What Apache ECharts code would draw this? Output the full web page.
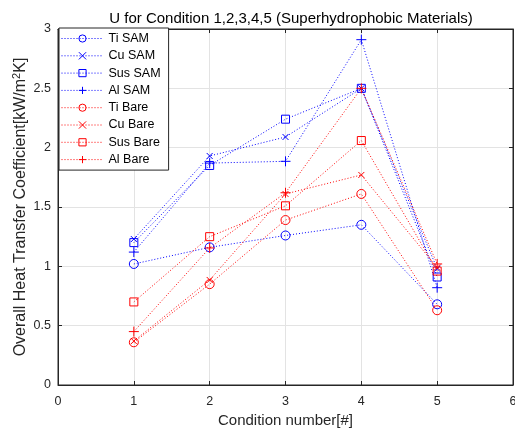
<!DOCTYPE html>
<html><head><meta charset="utf-8">
<script src="https://cdn.jsdelivr.net/npm/echarts@6/dist/echarts.min.js"></script>
<style>html,body{margin:0;padding:0;background:#fff}#c{width:515px;height:433px}</style>
</head><body><div id="c"></div>
<script>
const conditions = [1, 2, 3, 4, 5];
const tiSAM   = [1.02, 1.16, 1.26, 1.35, 0.68];
const cuSAM   = [1.23, 1.93, 2.09, 2.50, 0.98];
const susSAM  = [1.20, 1.85, 2.24, 2.50, 0.91];
const alSAM   = [1.12, 1.87, 1.885, 2.91, 0.82];
const tiBare  = [0.36, 0.85, 1.39, 1.61, 0.63];
const cuBare  = [0.37, 0.885, 1.61, 1.77, 0.99];
const susBare = [0.70, 1.25, 1.51, 2.06, 0.96];
const alBare  = [0.45, 1.155, 1.62, 2.50, 1.02];

const FONT = 'Liberation Sans, Arial, sans-serif';
const TXT = '#262626';
const CROSS = 'path://M0,0L10,10M10,0L0,10';
const PLUS = 'path://M5,0L5,10M0,5L10,5';
const DOT = [1, 2];

function mk(name, data, color, symbol, size) {
  return {
    name, type: 'line',
    data: data.map((v, i) => [conditions[i], v]),
    symbol, symbolSize: size,
    showAllSymbol: true,
    lineStyle: { color, width: 1, type: DOT },
    itemStyle: { color: 'rgba(255,255,255,0)', borderColor: color, borderWidth: 1 },
    emphasis: { disabled: true },
    animation: false
  };
}
const series = [
  mk('Ti SAM', tiSAM, '#0000ff', 'circle', 9),
  mk('Cu SAM', cuSAM, '#0000ff', CROSS, 6),
  mk('Sus SAM', susSAM, '#0000ff', 'rect', 8),
  mk('Al SAM', alSAM, '#0000ff', PLUS, 10),
  mk('Ti Bare', tiBare, '#ff0000', 'circle', 9),
  mk('Cu Bare', cuBare, '#ff0000', CROSS, 6),
  mk('Sus Bare', susBare, '#ff0000', 'rect', 8),
  mk('Al Bare', alBare, '#ff0000', PLUS, 10)
];
const legendNames = series.map(s => s.name);
series.push({ name: '_frame', type: 'scatter', xAxisIndex: 1, yAxisIndex: 1, data: [], silent: true });

const chart = echarts.init(document.getElementById('c'));
const axLine = { show: true, onZero: false, lineStyle: { color: TXT, width: 1 } };
chart.setOption({
  animation: false,
  textStyle: { fontFamily: FONT },
  title: {
    text: 'U for Condition 1,2,3,4,5 (Superhydrophobic Materials)',
    left: 286, top: 6, textAlign: 'center',
    textStyle: { fontFamily: FONT, fontSize: 15, fontWeight: 'normal', color: '#000' }
  },
  grid: { left: 58, right: 2, top: 29, bottom: 48, show: true, borderColor: TXT, borderWidth: 1,
          containLabel: false, outerBoundsMode: 'none' },
  legend: {
    orient: 'vertical', left: 59, top: 28,
    backgroundColor: '#fff', borderColor: TXT, borderWidth: 1,
    padding: [4, 8, 4, 2], itemWidth: 42, itemHeight: 9, itemGap: 4.3,
    itemStyle: { borderWidth: 1 },
    lineStyle: { width: 1, type: DOT },
    textStyle: { fontFamily: FONT, fontSize: 12.5, color: '#000', padding: [0, 0, 0, 0] },
    data: legendNames
  },
  xAxis: [{
    type: 'value', min: 0, max: 6, interval: 1,
    name: 'Condition number[#]', nameLocation: 'middle', nameGap: 21,
    nameTextStyle: { fontFamily: FONT, fontSize: 15, color: TXT },
    axisLine: axLine,
    axisTick: { inside: true, length: 4, lineStyle: { color: TXT } },
    axisLabel: { fontFamily: FONT, fontSize: 12.5, color: TXT, margin: 10 },
    splitLine: { show: true, lineStyle: { color: '#e3e3e3' } }
  }, {
    type: 'value', min: 0, max: 6, interval: 1, position: 'top',
    axisLine: axLine,
    axisTick: { inside: true, length: 4, lineStyle: { color: TXT } },
    axisLabel: { show: false }, splitLine: { show: false }
  }],
  yAxis: [{
    type: 'value', min: 0, max: 3, interval: 0.5,
    name: 'Overall Heat Transfer Coefficient[kW/m{sup|2}K]', nameLocation: 'middle', nameGap: 28,
    nameMoveOverlap: false,
    nameTextStyle: {
      fontFamily: FONT, fontSize: 16, color: TXT, lineHeight: 19,
      rich: { sup: { fontFamily: FONT, fontSize: 11, color: TXT, verticalAlign: 'top', lineHeight: 11 } }
    },
    axisLine: axLine,
    axisTick: { inside: true, length: 4, lineStyle: { color: TXT } },
    axisLabel: { fontFamily: FONT, fontSize: 12.5, color: TXT, margin: 7 },
    splitLine: { show: true, lineStyle: { color: '#e3e3e3' } }
  }, {
    type: 'value', min: 0, max: 3, interval: 0.5, position: 'right',
    axisLine: axLine,
    axisTick: { inside: true, length: 4, lineStyle: { color: TXT } },
    axisLabel: { show: false }, splitLine: { show: false }
  }],
  series
});
</script></body></html>
